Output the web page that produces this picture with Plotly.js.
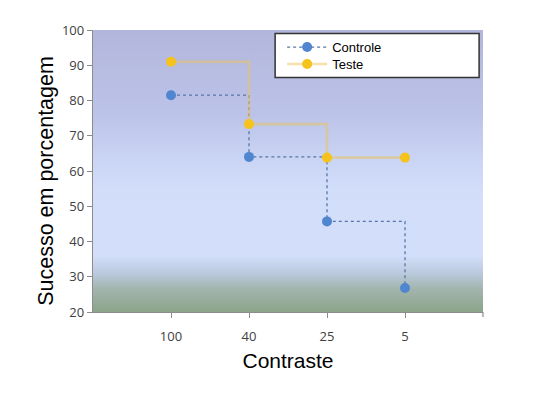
<!DOCTYPE html>
<html>
<head>
<meta charset="utf-8">
<script src="https://cdn.plot.ly/plotly-3.0.1.min.js"></script>
<style>html,body{margin:0;padding:0;background:#fff;}#chart{width:540px;height:394px;}</style>
</head>
<body>
<div id="chart"></div>
<script>
const categories = ['100', '40', '25', '5'];
const controle = [81.5, 64.0, 45.7, 26.8];
const teste = [91.0, 73.3, 63.8, 63.8];
const seriesNames = ['Controle', 'Teste'];
const xTitle = 'Contraste';
const yTitle = 'Sucesso em porcentagem';

const grad = '<svg xmlns="http://www.w3.org/2000/svg" width="10" height="100" preserveAspectRatio="none">' +
  '<defs><linearGradient id="g" x1="0" y1="0" x2="0" y2="1">' +
  '<stop offset="0" stop-color="#b3b6dc"/>' +
  '<stop offset="0.3" stop-color="#bcc3e8"/>' +
  '<stop offset="0.45" stop-color="#c9d3f3"/>' +
  '<stop offset="0.56" stop-color="#d2ddfa"/>' +
  '<stop offset="0.8" stop-color="#d3dffa"/>' +
  '<stop offset="0.86" stop-color="#bccadf"/>' +
  '<stop offset="0.92" stop-color="#a2b4ad"/>' +
  '<stop offset="1" stop-color="#8ca489"/>' +
  '</linearGradient></defs><rect width="10" height="100" fill="url(#g)"/></svg>';
const gradUri = 'data:image/svg+xml;charset=utf-8,' + encodeURIComponent(grad);

const traces = [
  {
    x: categories, y: controle, name: seriesNames[0], type: 'scatter', mode: 'lines+markers',
    line: {shape: 'hv', color: '#5a76a6', width: 1.3, dash: 'dot'},
    marker: {color: '#4f86cf', size: 10},
    legend: 'legend'
  },
  {
    x: categories, y: teste, name: seriesNames[1], type: 'scatter', mode: 'lines+markers',
    line: {shape: 'hv', color: 'rgba(236,196,90,0.5)', width: 2.6},
    marker: {color: '#f6c21c', size: 10},
    legend: 'legend2'
  }
];

const legendCommon = {
  xanchor: 'left', yanchor: 'top',
  bgcolor: 'rgba(0,0,0,0)', borderwidth: 0,
  font: {family: 'Liberation Sans, Arial, sans-serif', size: 13, color: '#000'},
  itemwidth: 40
};

const layout = {
  width: 540, height: 394,
  margin: {l: 93, r: 57, t: 30, b: 82},
  paper_bgcolor: '#ffffff',
  plot_bgcolor: 'rgba(0,0,0,0)',
  showlegend: true,
  legend: Object.assign({x: 0.485, y: 0.9926}, legendCommon),
  legend2: Object.assign({x: 0.485, y: 0.9325}, legendCommon),
  xaxis: {
    type: 'category', range: [-1, 4],
    showgrid: false, zeroline: false,
    showline: true, linecolor: '#8c8c8c', linewidth: 1.2,
    ticks: 'outside', ticklen: 5, tickcolor: '#8c8c8c',
    tickfont: {family: 'Open Sans, sans-serif', size: 13, color: '#404040'},
    ticklabelstandoff: 7,
    title: {text: xTitle, font: {family: 'Liberation Sans, Arial, sans-serif', size: 21, color: '#000'}, standoff: 9}
  },
  yaxis: {
    range: [20, 100], dtick: 10,
    showgrid: false, zeroline: false,
    showline: true, linecolor: '#8c8c8c', linewidth: 1.2,
    ticks: 'outside', ticklen: 5, tickcolor: '#8c8c8c',
    tickfont: {family: 'Open Sans, sans-serif', size: 13, color: '#404040'}
  },
  annotations: [{
    text: yTitle, textangle: -90, showarrow: false,
    xref: 'paper', yref: 'paper', x: 0, y: 0.465, xanchor: 'center', yanchor: 'middle',
    xshift: -47,
    font: {family: 'Liberation Sans, Arial, sans-serif', size: 21.5, color: '#000'}
  }],
  images: [{
    source: gradUri, xref: 'paper', yref: 'paper', x: 0, y: 1, sizex: 1, sizey: 1,
    xanchor: 'left', yanchor: 'top', sizing: 'stretch', layer: 'below'
  }],
  shapes: [
    {
      type: 'line', xref: 'paper', yref: 'paper', x0: 1, x1: 1, y0: 0, y1: -0.018,
      line: {color: '#8c8c8c', width: 1.2}
    },
    {
      type: 'rect', xref: 'paper', yref: 'paper', x0: 0.467, x1: 0.990, y0: 0.832, y1: 0.988,
      fillcolor: '#ffffff', line: {color: '#333333', width: 1.5}, layer: 'above'
    }
  ]
};

Plotly.newPlot('chart', traces, layout, {displayModeBar: false, staticPlot: true});
</script>
</body>
</html>
